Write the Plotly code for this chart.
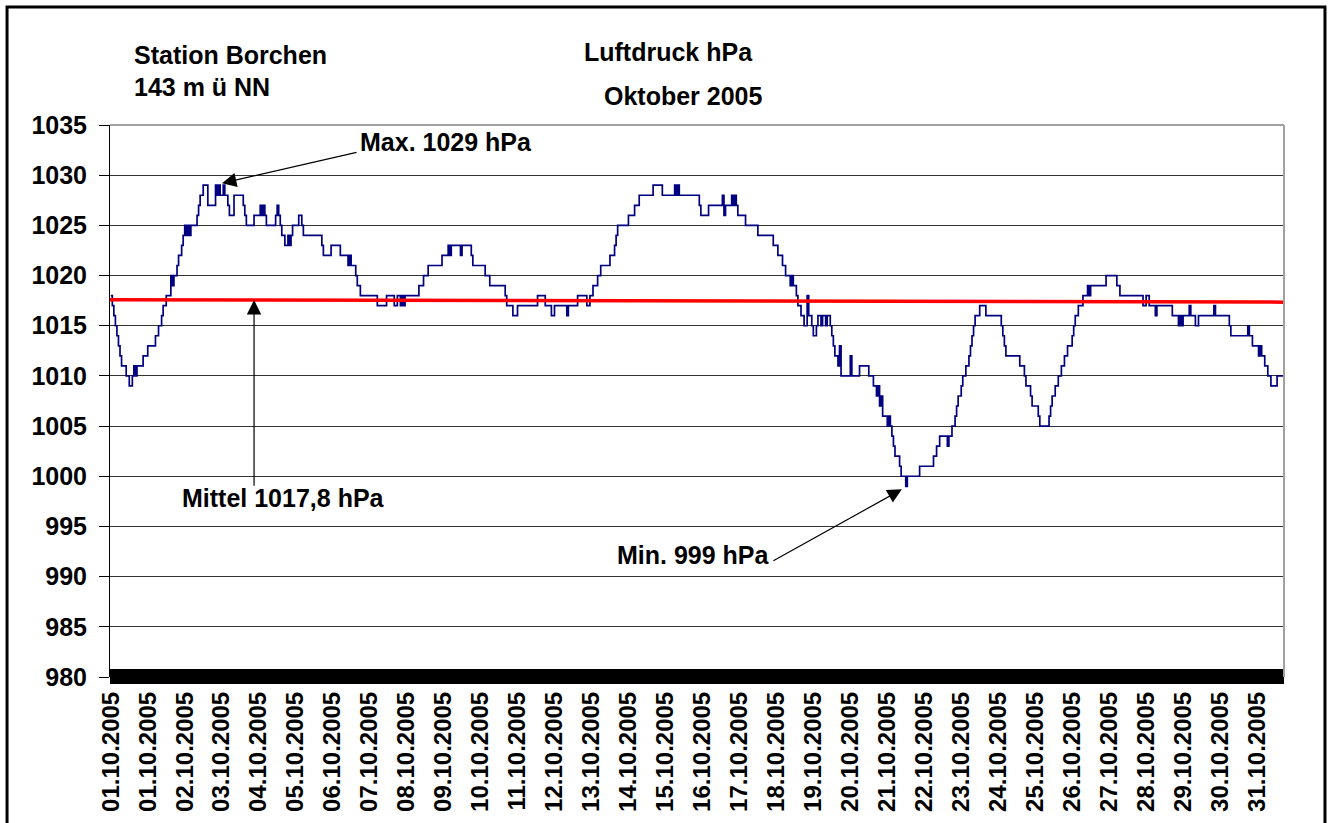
import plotly.graph_objects as go

# ---- data (hour index of each change, pressure level in hPa from that hour on) ----
change_hour = [0,1,2,3,4,5,6,7,10,12,14,15,16,17,21,24,29,31,33,34,36,39,40,41,43,44,46,47,48,49,50,51,52,56,57,58,60,63,
               68,69,70,71,73,74,76,77,80,86,87,88,93,97,98,99,100,101,107,108,109,110,111,113,115,116,117,118,122,124,125,
               137,138,143,149,154,155,156,159,160,162,173,179,184,186,188,189,190,191,200,203,206,215,219,220,221,227,228,
               234,235,243,246,256,257,261,264,277,282,286,288,296,297,303,309,311,313,316,318,324,327,328,329,336,340,343,
               352,358,366,367,368,369,382,383,388,397,398,399,403,404,405,406,407,412,420,430,433,436,438,441,442,443,445,
               446,448,450,452,453,455,456,458,459,461,462,464,465,467,468,469,470,472,473,474,480,481,486,492,495,497,498,
               499,500,501,504,505,506,507,508,509,512,513,516,517,525,534,536,538,543,544,546,548,549,550,552,553,555,557,
               558,559,560,561,564,568,578,579,580,581,590,593,594,597,598,602,603,609,610,611,613,615,617,619,621,624,625,
               626,628,631,634,635,636,646,653,655,670,672,674,678,679,689,693,694,695,696,700,701,704,706,716,717,726,727,
               738,739,741,745,746,747,749,751,753,757,761]
pressure_hpa = [1018,1017,1016,1015,1014,1013,1012,1011,1010,1009,1010,1011,1010,1011,1012,1013,1014,1015,1016,1017,1018,1020,
                1019,1020,1021,1022,1023,1024,1025,1024,1025,1024,1025,1026,1027,1028,1029,1027,
                1029,1028,1029,1028,1029,1028,1027,1026,1028,1027,1026,1025,1026,1027,1026,1027,1026,1025,1026,1027,1026,1025,
                1024,1023,1024,1023,1024,1025,1026,1025,1024,
                1023,1022,1023,1022,1021,1022,1021,1020,1019,1018,1017,1018,1017,1018,1017,1018,1017,1018,1019,1020,1021,1022,
                1023,1022,1023,1022,1023,
                1022,1021,1020,1019,1018,1017,1016,1017,1018,1017,1016,1017,1016,1017,1018,1017,1018,1019,1020,1021,1022,1023,
                1024,1025,1026,1027,1028,
                1029,1028,1029,1028,1029,1028,1027,1026,1027,1028,1026,1027,1028,1027,1028,1027,1026,1025,1024,1023,1022,1021,
                1020,1019,1020,1019,1018,
                1017,1016,1015,1018,1016,1015,1014,1015,1016,1015,1016,1015,1016,1015,1014,1013,1012,1011,1013,1010,1012,1010,
                1011,1010,1009,1008,1009,
                1007,1008,1006,1005,1006,1005,1004,1003,1002,1001,1000,999,1000,1001,1002,1003,1004,1003,1004,1005,1006,1007,
                1008,1009,1010,1011,1012,
                1013,1014,1015,1016,1017,1016,1015,1014,1013,1012,1011,1010,1009,1008,1007,1006,1005,1006,1007,1008,1009,1010,
                1011,1012,1013,1014,1015,
                1016,1017,1018,1019,1018,1019,1020,1019,1018,1017,1018,1017,1016,1017,1016,1015,1016,1015,1016,1017,1016,1015,
                1016,1017,1016,1015,1014,
                1015,1014,1013,1012,1013,1012,1011,1010,1009,1010,1010]

trend_hour = [-0.5, 761.5]
trend_hpa = [1017.6, 1017.35]

label_hours = [i * 24 for i in range(32)]
label_text = ["01.10.2005"] + ["%02d.10.2005" % d for d in range(1, 32)]

y_ticks = list(range(980, 1036, 5))

FONT = "Liberation Sans, Arial, sans-serif"

fig = go.Figure()
fig.add_trace(go.Scatter(x=change_hour, y=pressure_hpa, mode="lines", line_shape="hv",
                         line=dict(color="#000080", width=1.7), showlegend=False, hoverinfo="skip"))
fig.add_trace(go.Scatter(x=trend_hour, y=trend_hpa, mode="lines",
                         line=dict(color="#ff0000", width=3.5), showlegend=False, hoverinfo="skip"))

fig.update_layout(
    width=1333, height=823, autosize=False,
    margin=dict(l=110, r=49, t=125, b=146, autoexpand=False),
    paper_bgcolor="white", plot_bgcolor="white",
    font=dict(family=FONT, color="black"),
    xaxis=dict(range=[-0.5, 761.5], tickmode="array", tickvals=label_hours, ticktext=label_text,
               tickangle=-90, ticks="", showgrid=False, zeroline=False, showline=False, automargin=False,
               tickfont=dict(size=24, family=FONT, weight="bold", color="black"),
               ticklabelstandoff=9),
    yaxis=dict(range=[980, 1035], tickmode="array", tickvals=y_ticks, showgrid=True, automargin=False,
               gridcolor="#333333", gridwidth=1, zeroline=False, showline=True, linecolor="black",
               linewidth=1, ticks="outside", ticklen=10, tickcolor="black",
               tickfont=dict(size=25, family=FONT, weight="bold", color="black"),
               ticklabelstandoff=7),
)

shapes = [
    # dense category tick band along the bottom axis
    dict(type="rect", xref="paper", yref="paper", x0=0, x1=1, y0=-0.0127, y1=0.0145,
         fillcolor="black", line=dict(width=0), layer="above"),
    # plot area border (top & right, grey)
    dict(type="line", xref="paper", yref="paper", x0=0, x1=1, y0=1, y1=1,
         line=dict(color="#a0a0a0", width=2), layer="above"),
    dict(type="line", xref="paper", yref="paper", x0=1, x1=1, y0=0, y1=1,
         line=dict(color="#a0a0a0", width=2), layer="above"),
    # outer chart frame
    dict(type="rect", xref="paper", yref="paper", x0=-0.0877, x1=1.0349, y0=-0.4, y1=1.2138,
         line=dict(color="black", width=3), fillcolor="rgba(0,0,0,0)", layer="above"),
]
fig.update_layout(shapes=shapes)

def txt(text, x, y, xref="paper", yref="paper", xanchor="left"):
    return dict(text="<b>%s</b>" % text, x=x, y=y, xref=xref, yref=yref, xanchor=xanchor,
                yanchor="middle", showarrow=False, font=dict(size=25, family=FONT, color="black"))

def arrow(x, y, ax, ay):
    return dict(text="", x=x, y=y, ax=ax, ay=ay, xref="x", yref="y", axref="x", ayref="y",
                showarrow=True, arrowhead=2, arrowsize=2.4, arrowwidth=1.2, arrowcolor="black")

annotations = [
    txt("Station Borchen", 0.0187, 1.1268),
    txt("143 m ü NN", 0.0187, 1.0688),
    txt("Luftdruck hPa", 0.4020, 1.1322),
    txt("Oktober 2005", 0.4191, 1.0525),
    txt("Max. 1029 hPa", 160.5, 1033.3, "x", "y"),
    arrow(72.2, 1029.2, 160.5, 1032.3),
    txt("Mittel 1017,8 hPa", 44.9, 997.8, "x", "y"),
    arrow(93, 1017.56, 93, 998.9),
    txt("Min. 999 hPa", 429.1, 992.2, "x", "y", xanchor="right"),
    arrow(513.5, 998.7, 429.1, 991.5),
]
fig.update_layout(annotations=annotations)

fig.write_html("out.html", config={"displayModeBar": False},
               post_script="document.body.style.margin='0';document.body.style.overflow='hidden';")
